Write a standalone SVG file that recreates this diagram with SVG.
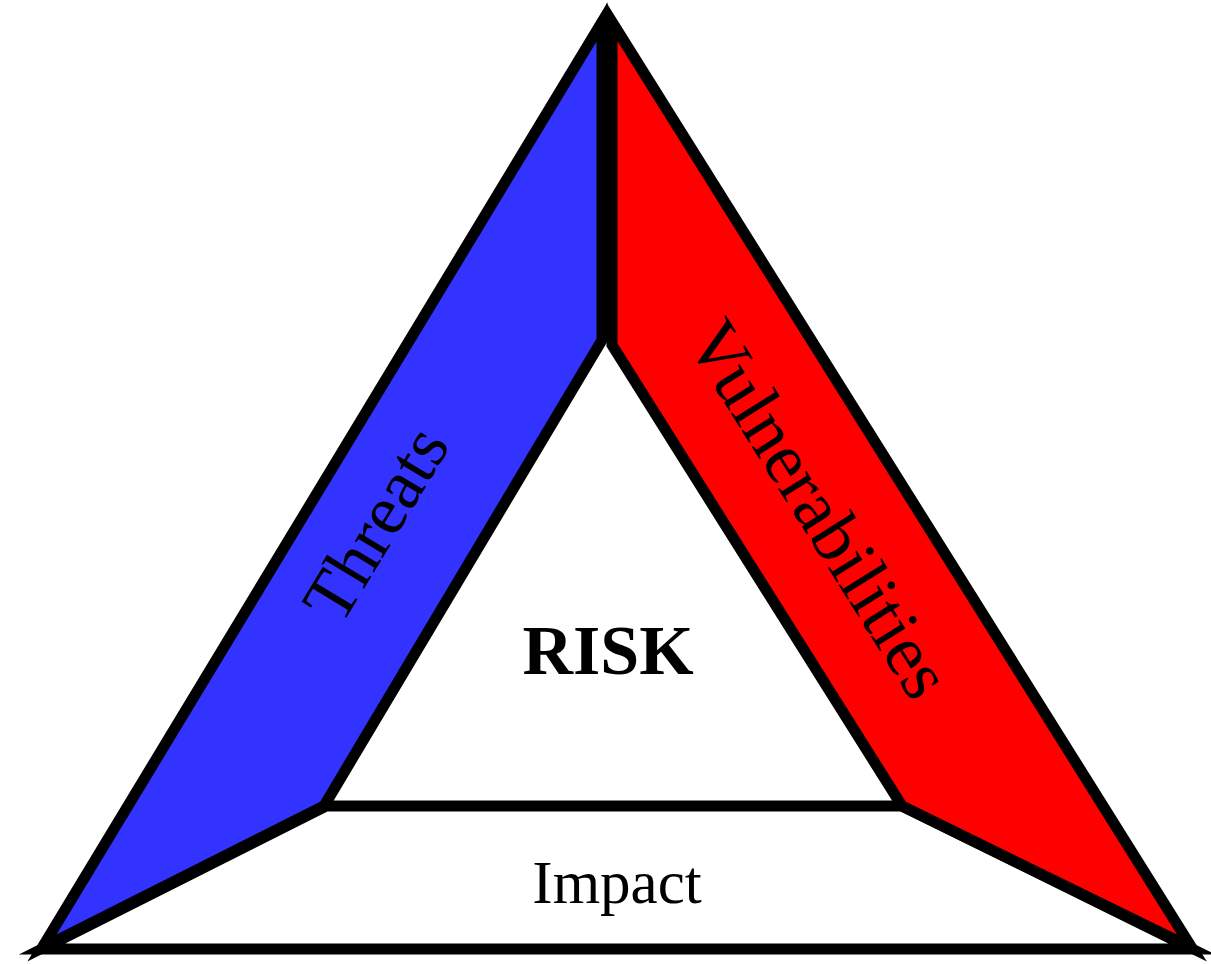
<svg xmlns="http://www.w3.org/2000/svg" width="1211" height="964" viewBox="0 0 1211 964">
<style>
.edge{stroke:#000;stroke-width:11;stroke-linejoin:miter;stroke-miterlimit:10}
.lbl{font-family:"Liberation Serif","Times New Roman",serif;fill:#000}
</style>
<rect width="1211" height="964" fill="#fff"/>
<g id="connectors"></g>
<g id="impact">
<polygon class="edge" fill="#fff" points="326,806 902,806 1192,949 42,949"/>
<text class="lbl" x="617" y="903" font-size="61" text-anchor="middle">Impact</text>
</g>
<g id="threats">
<polygon class="edge" fill="#3333ff" points="602,22 602,340 324,806 42,948"/>
<text class="lbl" x="396" y="536" font-size="71" text-anchor="middle" transform="rotate(-58.8 396 536)">Threats</text>
</g>
<g id="vulnerabilities">
<polygon class="edge" fill="#ff0000" points="612,22 612,345 902,806 1192,948"/>
<text class="lbl" x="799" y="522" font-size="73" text-anchor="middle" transform="rotate(57.9 799 522)">Vulnerabilities</text>
</g>
<g id="risk">
<text class="lbl" x="608" y="674" font-size="70" font-weight="bold" text-anchor="middle">RISK</text>
</g>
</svg>
